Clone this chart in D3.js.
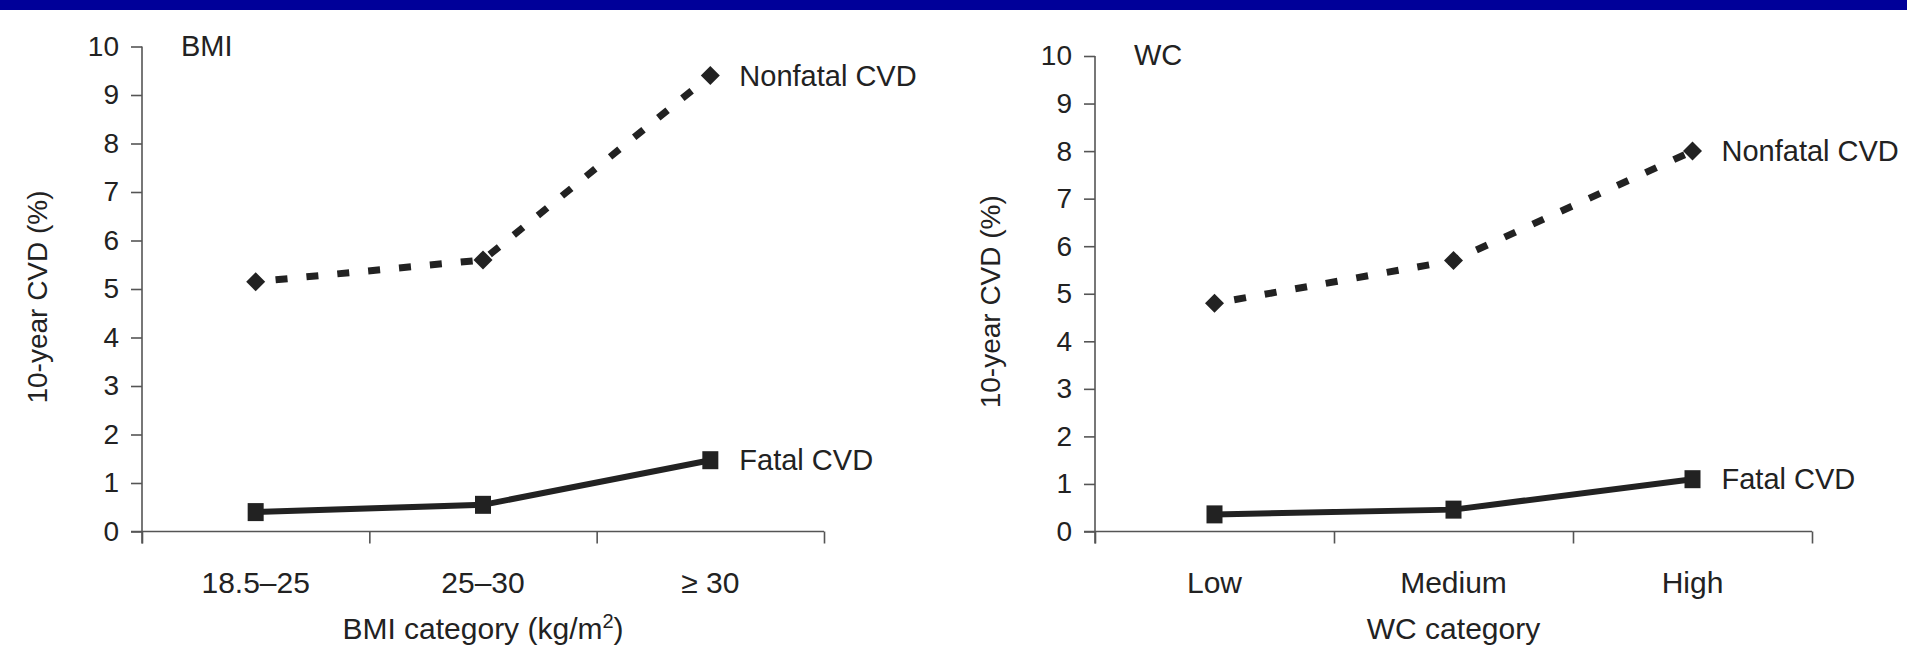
<!DOCTYPE html>
<html>
<head>
<meta charset="utf-8">
<script src="https://cdn.jsdelivr.net/npm/d3@7"></script>
<style>
  body { margin: 0; background: #fff; }
  svg text { fill: #222; }
</style>
</head>
<body>
<div id="chart"></div>
<script>
// data
const bmiCategories = ['18.5\u201325', '25\u201330', '\u2265 30'];
const bmiNonfatal = [5.15, 5.6, 9.4];
const bmiFatal = [0.4, 0.55, 1.47];

const wcCategories = ['Low', 'Medium', 'High'];
const wcNonfatal = [4.8, 5.7, 8.0];
const wcFatal = [0.36, 0.46, 1.1];

const yTicks = [0, 1, 2, 3, 4, 5, 6, 7, 8, 9, 10];

const W = 1907, H = 669;
const ink = '#222';
const narrow = '"Liberation Sans Narrow", "Arial Narrow", "Liberation Sans", sans-serif';
const wide = '"Liberation Sans", Arial, sans-serif';

const svg = d3.select('#chart').append('svg')
    .attr('width', W)
    .attr('height', H);

// blue band along the top
svg.append('rect')
    .attr('x', 0).attr('y', 0)
    .attr('width', W).attr('height', 10)
    .attr('fill', '#000099');

const panels = [
    { title: 'BMI', cats: bmiCategories, nonfatal: bmiNonfatal, fatal: bmiFatal,
      x0: 142, x1: 824, yTop: 46.5, xTitle: 'BMI category (kg/m', sup: '2', xTitleEnd: ')' },
    { title: 'WC', cats: wcCategories, nonfatal: wcNonfatal, fatal: wcFatal,
      x0: 1095, x1: 1812, yTop: 56, xTitle: 'WC category', sup: null, xTitleEnd: '' }
];

const yBottom = 531.5;

panels.forEach(p => {
    const g = svg.append('g');

    const x = d3.scaleBand().domain(p.cats).range([p.x0, p.x1]).padding(0);
    const xEdge = d3.scaleLinear().domain([0, p.cats.length]).range([p.x0, p.x1]);
    const y = d3.scaleLinear().domain([0, 10]).range([yBottom, p.yTop]);

    // y axis
    const yAxis = g.append('g')
        .attr('transform', `translate(${p.x0},0)`)
        .call(d3.axisLeft(y).tickValues(yTicks).tickSize(11).tickSizeOuter(0).tickPadding(12));
    yAxis.select('.domain').attr('stroke', '#555').attr('stroke-width', 1.6)
        .attr('d', `M0,${y(10)}V${yBottom + 12}`);
    yAxis.selectAll('.tick line').attr('stroke', '#555').attr('stroke-width', 1.6);
    yAxis.selectAll('.tick text')
        .attr('font-family', wide).attr('font-size', 28).attr('fill', ink);

    // x axis: ticks at category boundaries
    const xAxis = g.append('g')
        .attr('transform', `translate(0,${yBottom})`)
        .call(d3.axisBottom(xEdge).tickValues(d3.range(p.cats.length + 1)).tickSize(12).tickSizeOuter(0).tickFormat(''));
    xAxis.select('.domain').attr('stroke', '#555').attr('stroke-width', 1.6)
        .attr('d', `M${p.x0 - 11},0H${p.x1}`);
    xAxis.selectAll('.tick line').attr('stroke', '#555').attr('stroke-width', 1.6);

    // category labels
    const xLab = g.append('g')
        .attr('transform', `translate(0,${yBottom})`)
        .call(d3.axisBottom(x).tickSize(0).tickPadding(40));
    xLab.select('.domain').remove();
    xLab.selectAll('.tick text')
        .attr('font-family', narrow).attr('font-size', 30).attr('fill', ink);

    // panel title
    g.append('text')
        .attr('x', p.x0 + 39).attr('y', p.yTop + 9)
        .attr('font-family', narrow).attr('font-size', 29)
        .text(p.title);

    // y title
    g.append('text')
        .attr('transform', `translate(${p.x0 - 95},${(yBottom + p.yTop) / 2 + 8}) rotate(-90)`)
        .attr('text-anchor', 'middle')
        .attr('font-family', wide).attr('font-size', 28)
        .text('10-year CVD (%)');

    // x title
    const xt = g.append('text')
        .attr('x', (p.x0 + p.x1) / 2).attr('y', yBottom + 107)
        .attr('text-anchor', 'middle')
        .attr('font-family', narrow).attr('font-size', 30);
    xt.append('tspan').text(p.xTitle);
    if (p.sup) {
        xt.append('tspan').attr('font-size', 20).attr('dy', -11).text(p.sup);
        xt.append('tspan').attr('dy', 11).text(p.xTitleEnd);
    }

    const cx = d => x(d) + x.bandwidth() / 2;

    // nonfatal: dashed line with diamonds
    const nfData = p.cats.map((c, i) => [cx(c), y(p.nonfatal[i])]);
    g.append('path')
        .attr('d', d3.line()(nfData))
        .attr('fill', 'none').attr('stroke', ink)
        .attr('stroke-width', 7).attr('stroke-dasharray', '12,19')
        .attr('stroke-dashoffset', -20);
    g.selectAll('.diamond').data(nfData).enter().append('path')
        .attr('transform', d => `translate(${d[0]},${d[1]})`)
        .attr('d', d3.symbol(d3.symbolDiamond2, 230)())
        .attr('fill', ink);

    // fatal: solid line with squares
    const fData = p.cats.map((c, i) => [cx(c), y(p.fatal[i])]);
    g.append('path')
        .attr('d', d3.line()(fData))
        .attr('fill', 'none').attr('stroke', ink)
        .attr('stroke-width', 6);
    g.selectAll('.square').data(fData).enter().append('rect')
        .attr('x', d => d[0] - 8).attr('y', d => d[1] - 9)
        .attr('width', 16).attr('height', 18)
        .attr('fill', ink);

    // series labels
    const last = p.cats.length - 1;
    g.append('text')
        .attr('x', nfData[last][0] + 29).attr('y', nfData[last][1] + 10)
        .attr('font-family', narrow).attr('font-size', 29)
        .text('Nonfatal CVD');
    g.append('text')
        .attr('x', fData[last][0] + 29).attr('y', fData[last][1] + 10)
        .attr('font-family', narrow).attr('font-size', 29)
        .text('Fatal CVD');
});
</script>
</body>
</html>
